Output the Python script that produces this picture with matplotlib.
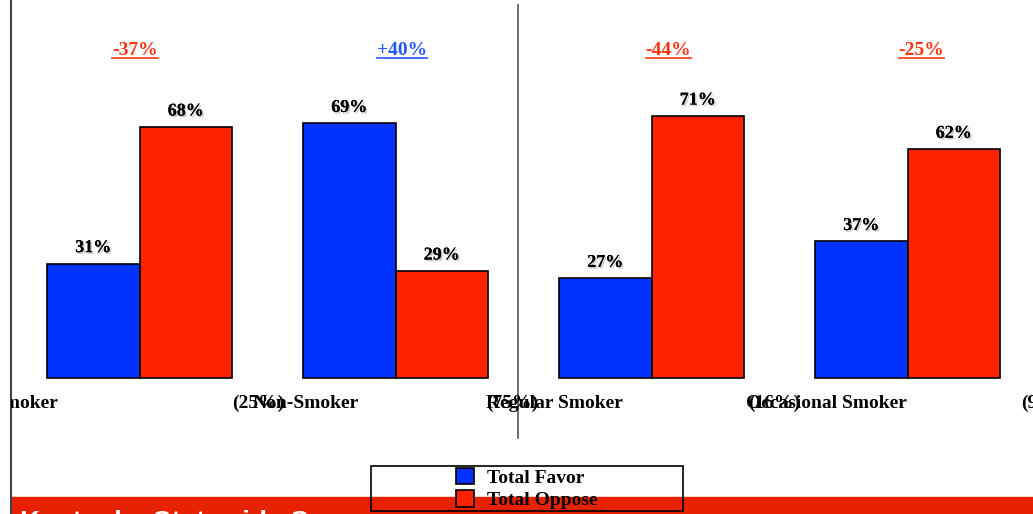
import matplotlib
matplotlib.use('Agg')
import matplotlib.pyplot as plt
from matplotlib.patches import Rectangle, Patch
from matplotlib.lines import Line2D
import matplotlib.patheffects as pe
from matplotlib.transforms import Bbox, blended_transform_factory

# ---------------- data ----------------
categories = ['Smoker', 'Non-Smoker', 'Regular Smoker', 'Occasional Smoker']
shares = ['(25%)', '(75%)', '(16%)', '(9%)']
favor = [31, 69, 27, 37]
oppose = [68, 29, 71, 62]
series_names = ['Total Favor', 'Total Oppose']
bottom_title = 'Kentucky Statewide Survey'

# ---------------- layout ----------------
W, H = 1033, 514
fig = plt.figure(figsize=(W / 100, H / 100), dpi=100)


def fx(p):
    return p / W


def fy(p):
    return 1 - p / H


FONT = 'Liberation Serif'
BLUE = '#0033FF'
RED = '#FF2200'
GROUP_PX = 256.0
C0 = 139.5

ax = fig.add_axes([0, fy(378), 1, (378 - 9) / H])
ax.set_xlim(-C0 / GROUP_PX, (W - C0) / GROUP_PX)
ax.set_ylim(0, 100)
ax.axis('off')

x = list(range(len(categories)))
w = 92.5 / GROUP_PX
ax.bar([i - w / 2 for i in x], favor, w, color=BLUE, edgecolor='black',
       linewidth=1.2, clip_on=False)
ax.bar([i + w / 2 for i in x], oppose, w, color=RED, edgecolor='black',
       linewidth=1.2, clip_on=False)

shadow = [pe.withSimplePatchShadow(offset=(1.2, -1.2), shadow_rgbFace='#888888', alpha=0.45),
          pe.Normal()]
for i in x:
    for xv, v in ((i - w / 2, favor[i]), (i + w / 2, oppose[i])):
        ax.annotate(f'{v}%', (xv, v), xytext=(0, 11.5), textcoords='offset points',
                    ha='center', va='center', fontsize=13, fontweight='bold',
                    family=FONT, path_effects=shadow)

clipbb = Bbox([[11, 0], [W, H]])
bt = blended_transform_factory(ax.transData, fig.transFigure)

# category labels (name and share drawn apart, as in the original slide)
name_dx = [-146, -143, -165, -161]
share_dx = [93, 91, 97, 114]
for i in x:
    for txt, dx in ((categories[i], name_dx[i]), (shares[i], share_dx[i])):
        t = fig.text(i + dx / GROUP_PX, fy(408), txt, transform=bt, ha='left',
                     va='baseline', fontsize=14, fontweight='bold', family=FONT)
        t.set_clip_box(clipbb)
        t.set_clip_on(True)

# difference labels, underlined
diff_dx = [-4.5, 6.5, 17, 14]
diff_texts = []
for i in x:
    d = favor[i] - oppose[i]
    col = '#2255FF' if d > 0 else '#FF3311'
    t = fig.text(i + diff_dx[i] / GROUP_PX, fy(55), f'{d:+d}%', transform=bt,
                 ha='center', va='baseline', fontsize=14, fontweight='bold',
                 family=FONT, color=col)
    diff_texts.append((t, col))

# lines
fig.add_artist(Line2D([fx(11), fx(11)], [0, 1], color='#444444', lw=1.5))
fig.add_artist(Line2D([fx(518), fx(518)], [fy(5), fy(438)], color='#555555', lw=1.2))

# bottom band with title
fig.add_artist(Rectangle((fx(11), 0), 1 - fx(11), (514 - 497) / H,
                         transform=fig.transFigure, color='#E82200', zorder=1))
fig.text(fx(20), fy(510.5), bottom_title, color='white', fontweight='bold',
         fontsize=20, family='Liberation Sans', va='top', ha='left', zorder=2)

# legend
handles = [Patch(facecolor=BLUE, edgecolor='black', linewidth=1.2),
           Patch(facecolor=RED, edgecolor='black', linewidth=1.2)]
leg = fig.legend(handles=handles, labels=series_names, loc='center',
                 bbox_to_anchor=(fx(371), fy(511), fx(683) - fx(371), (511 - 466) / H),
                 bbox_transform=fig.transFigure, frameon=False,
                 prop={'family': FONT, 'weight': 'bold', 'size': 14},
                 handlelength=0.9, handleheight=0.9, labelspacing=0.2,
                 handletextpad=0.7, borderpad=0)
leg.set_zorder(6)
fig.add_artist(Rectangle((fx(371), fy(511)), fx(683) - fx(371), (511 - 466) / H,
                         transform=fig.transFigure, fill=False, edgecolor='black',
                         lw=1.2, zorder=7))

# underline the difference labels
fig.canvas.draw()
r = fig.canvas.get_renderer()
for t, col in diff_texts:
    bb = t.get_window_extent(r)
    yl = fy(57.5)
    fig.add_artist(Line2D([bb.x0 / W, bb.x1 / W], [yl, yl], color=col, lw=1.2))

fig.savefig('out.png', dpi=100)
